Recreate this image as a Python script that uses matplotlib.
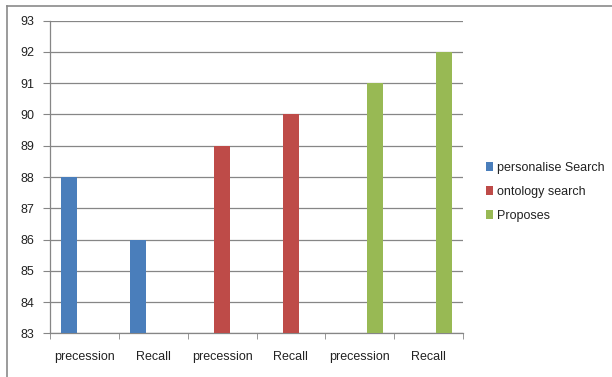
import matplotlib.pyplot as plt
import numpy as np
from matplotlib.lines import Line2D

# categories and series values
categories = ["precession", "Recall", "precession", "Recall", "precession", "Recall"]
series_names = ["personalise Search", "ontology search", "Proposes"]
personalise = [88, 86, None, None, None, None]
ontology = [None, None, 89, 90, None, None]
proposes = [None, None, None, None, 91, 92]
colors = ["#4a7ebb", "#be4b48", "#98b954"]

plt.rcParams["font.family"] = ["Liberation Sans", "DejaVu Sans"]

fig = plt.figure(figsize=(6.12, 3.77), dpi=100)
ax = fig.add_axes([50 / 612, 1 - 333.3 / 377, 413 / 612, 312.6 / 377])

# excel style clustered bars: gap width 150%
width = 1 / 4.5
x = np.arange(len(categories))
for i, (vals, name, c) in enumerate(zip([personalise, ontology, proposes], series_names, colors)):
    xs = [xi + (i - 1) * width for xi, v in zip(x, vals) if v is not None]
    hs = [v - 83 for v in vals if v is not None]
    ax.bar(xs, hs, width=width, bottom=83, color=c, label=name, zorder=3)

ax.set_xlim(-0.5, len(categories) - 0.5)
ax.set_ylim(83, 93)
ax.set_yticks(range(83, 94))
ax.yaxis.grid(True, color="#868686", linewidth=0.9, zorder=0)

# category labels centred, tick marks on the category boundaries
ax.set_xticks(x)
ax.set_xticklabels(categories)
ax.set_xticks(np.arange(-0.5, len(categories)), minor=True)
ax.tick_params(axis="x", which="major", length=0, pad=13, labelsize=9, colors="#222222")
ax.tick_params(axis="x", which="minor", length=4, color="#868686", direction="out")
ax.tick_params(axis="y", length=5, color="#868686", labelsize=9, labelcolor="#222222", pad=6)

for side in ["top", "right"]:
    ax.spines[side].set_visible(False)
for side in ["left", "bottom"]:
    ax.spines[side].set_color("#868686")
    ax.spines[side].set_linewidth(0.9)

leg = ax.legend(loc="center left", bbox_to_anchor=(1.043, 0.452), frameon=False,
                fontsize=9, handlelength=0.6, handleheight=0.7, handletextpad=0.3,
                labelspacing=0.95, borderaxespad=0)
for t in leg.get_texts():
    t.set_color("#222222")

# chart area border
fig.add_artist(Line2D([7 / 612, 1], [1 - 6 / 377] * 2, color="#8a8a8a", linewidth=1.2))
fig.add_artist(Line2D([7 / 612] * 2, [0, 1 - 6 / 377], color="#8a8a8a", linewidth=1.2))

fig.savefig("out.png", dpi=100)
